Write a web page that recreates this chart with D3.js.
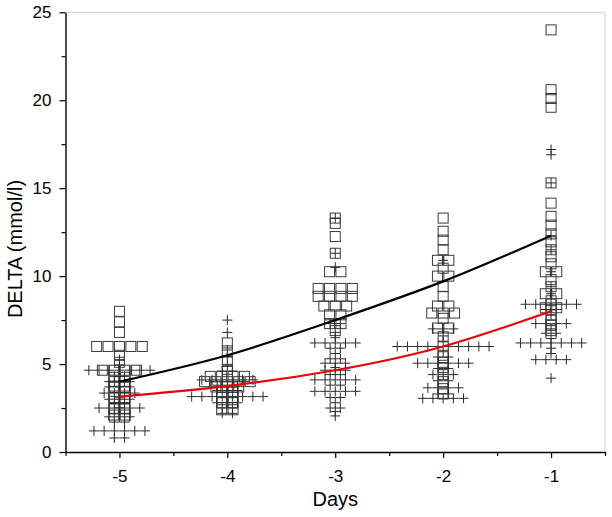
<!DOCTYPE html>
<html><head><meta charset="utf-8">
<script src="https://cdn.jsdelivr.net/npm/d3@7"></script>
<style>body{margin:0;background:#fff} text{font-family: Arial, "Liberation Sans", sans-serif}</style>
</head><body><svg id="chart" width="612" height="517"></svg>
<script>
// ---- data ----
const days = [-5, -4, -3, -2, -1];

const squaresDayM5 = [8.0, 7.4, 6.8, 6.0, 6.0, 6.0, 6.0, 6.0, 5.5, 5.1, 4.65, 4.65, 4.65, 4.65,
  4.25, 4.25, 4.0, 3.75, 3.75, 3.45, 3.45, 3.1, 3.1, 2.8, 2.45, 2.45, 2.1, 2.1];
const squaresDayM4 = [6.2, 5.75, 5.15, 4.7, 4.3, 4.3, 4.3, 4.3, 4.0, 4.0, 4.0, 4.0, 4.0,
  3.7, 3.7, 3.7, 3.4, 3.4, 3.1, 3.1, 2.8, 2.8, 2.4, 2.4];
const squaresDayM3 = [13.3, 13.0, 12.25, 11.3, 10.25, 10.25, 9.3, 9.3, 9.3, 9.3, 8.85, 8.85, 8.85, 8.85,
  8.3, 8.3, 8.3, 7.8, 7.8, 7.3, 7.3, 6.9];
const squaresDayM2 = [13.3, 12.55, 12.05, 11.5, 10.9, 10.9, 10.45, 10.0, 10.0, 9.4, 8.85, 8.3, 8.3,
  7.9, 7.9, 7.9, 7.6, 7.05, 7.05, 6.55, 5.5, 5.1, 4.8, 4.4, 4.0, 3.6, 3.3];
const squaresDayM1 = [24.0, 20.6, 20.1, 19.6, 15.3, 14.15, 13.4, 12.9, 12.4, 11.95, 11.5, 11.1, 10.7,
  10.25, 10.25, 9.8, 9.4, 9.0, 9.0, 8.6, 8.2, 8.2, 7.8, 7.5, 7.2, 6.9];

const plusesDayM5 = [5.25, 4.95, 4.65, 4.65, 4.65, 4.65, 4.65, 4.65, 4.65, 4.3, 4.3, 4.0, 4.0, 4.0,
  3.7, 3.7, 3.7, 3.35, 3.35, 3.35, 3.35, 3.0, 3.0, 3.0, 2.75, 2.75, 2.5, 2.5, 2.5, 2.5, 2.5,
  2.2, 2.2, 2.0, 2.0, 2.0, 1.7, 1.7, 1.2, 1.2, 1.2, 1.2, 1.2, 1.2, 0.8, 0.8];
const plusesDayM4 = [7.5, 6.8, 5.8, 5.4, 4.9, 4.6, 4.6, 4.1, 4.1, 4.1, 4.1, 4.1, 4.1, 3.8, 3.8, 3.8,
  3.5, 3.5, 3.5, 3.15, 3.15, 3.15, 3.15, 3.15, 3.15, 3.15, 3.15, 2.8, 2.8, 2.8, 2.5, 2.5, 2.2, 2.2];
const plusesDayM3 = [13.3, 11.3, 10.5, 7.3, 7.3, 6.8, 6.5, 6.2, 6.2, 6.2, 6.2, 6.2, 5.9, 5.9, 5.6,
  5.3, 5.3, 5.05, 5.05, 5.05, 4.8, 4.65, 4.65, 4.65, 4.4, 4.4, 4.1, 4.1, 4.1, 4.1, 4.1, 3.8, 3.8,
  3.45, 3.45, 3.45, 3.45, 3.45, 3.1, 3.1, 2.8, 2.5, 2.5, 2.3, 2.05];
const plusesDayM2 = [10.9, 7.0, 7.0, 7.0, 6.6, 6.3, 6.0, 6.0, 6.0, 6.0, 6.0, 6.0, 6.0, 6.0, 6.0, 6.0,
  5.7, 5.4, 5.4, 5.05, 5.05, 5.05, 5.05, 5.05, 5.05, 4.75, 4.75, 4.4, 4.4, 4.4, 4.05, 4.05,
  3.65, 3.65, 3.65, 3.65, 3.3, 3.3, 3.05, 3.05, 3.05, 3.05, 3.05];
const plusesDayM1 = [17.2, 16.9, 15.3, 12.3, 11.5, 10.25, 9.4, 9.0, 8.7, 8.4, 8.4, 8.4, 8.4, 8.4, 8.4,
  8.1, 8.1, 7.8, 7.3, 7.3, 7.3, 7.3, 7.0, 6.75, 6.75, 6.45, 6.2, 6.2, 6.2, 6.2, 6.2, 6.2, 6.2,
  5.9, 5.6, 5.25, 5.25, 5.25, 5.25, 4.2];

const fitDays = [-5, -4, -3, -2, -1];
const fitUpper = [4.0, 5.5, 7.5, 9.7, 12.3];
const fitLower = [3.15, 3.75, 4.65, 6.0, 8.0];

const xTicks = [-5, -4, -3, -2, -1];
const xMinorTicks = [-5.5, -4.5, -3.5, -2.5, -1.5, -0.5];
const yTicks = [0, 5, 10, 15, 20, 25];
const yMinorTicks = [2.5, 7.5, 12.5, 17.5, 22.5];

const squareSeries = [squaresDayM5, squaresDayM4, squaresDayM3, squaresDayM2, squaresDayM1];
const plusSeries = [plusesDayM5, plusesDayM4, plusesDayM3, plusesDayM2, plusesDayM1];

// ---- drawing ----
const L = 65.5, R = 605, T = 12.3, B = 452;
const svg = d3.select("#chart");
const x = d3.scaleLinear().domain([-5.5, -0.5]).range([L, R]);
const y = d3.scaleLinear().domain([0, 25]).range([B, T]);

svg.append("line").attr("x1", L).attr("x2", R).attr("y1", T).attr("y2", T).attr("stroke", "#d4d4d4").attr("stroke-width", 1);
svg.append("line").attr("x1", R).attr("x2", R).attr("y1", T).attr("y2", B).attr("stroke", "#d4d4d4").attr("stroke-width", 1);

function layout(vals) {
  const counts = d3.rollup(vals, v => v.length, d => d);
  const seen = new Map();
  return vals.map(v => {
    const n = counts.get(v); const i = seen.get(v) || 0; seen.set(v, i + 1);
    return { v, k: i - (n - 1) / 2 };
  });
}

const gPts = svg.append("g");
squareSeries.forEach((vals, di) => {
  gPts.selectAll(null).data(layout(vals)).enter().append("rect")
    .attr("x", d => x(days[di]) + d.k * 11.4 - 5)
    .attr("y", d => y(d.v) - 5)
    .attr("width", 10).attr("height", 10)
    .attr("fill", "none").attr("stroke", "#3a3a3a").attr("stroke-width", 1);
});
plusSeries.forEach((vals, di) => {
  gPts.selectAll(null).data(layout(vals)).enter().append("path")
    .attr("d", d => {
      const cx = x(days[di]) + d.k * 10.2, cy = y(d.v);
      return `M${cx - 5},${cy}H${cx + 5}M${cx},${cy - 5}V${cy + 5}`;
    })
    .attr("fill", "none").attr("stroke", "#2a2a2a").attr("stroke-width", 1);
});

const line = d3.line().x((d, i) => x(fitDays[i])).y(d => y(d)).curve(d3.curveNatural);
svg.append("path").attr("d", line(fitUpper)).attr("fill", "none").attr("stroke", "#000").attr("stroke-width", 2.2);
svg.append("path").attr("d", line(fitLower)).attr("fill", "none").attr("stroke", "#e8000b").attr("stroke-width", 2.2);

// axes
const fmt = d => String(d);
const ax = svg.append("g").attr("transform", `translate(0,${B})`);
ax.call(d3.axisBottom(x).tickValues(xTicks).tickSize(6).tickSizeOuter(0).tickPadding(12).tickFormat(fmt));
ax.append("g").call(d3.axisBottom(x).tickValues(xMinorTicks).tickSize(4).tickSizeOuter(0).tickFormat(() => ""))
  .select(".domain").remove();
const ay = svg.append("g").attr("transform", `translate(${L},0)`);
ay.call(d3.axisLeft(y).tickValues(yTicks).tickSize(6).tickSizeOuter(0).tickPadding(8).tickFormat(fmt));
ay.append("g").call(d3.axisLeft(y).tickValues(yMinorTicks).tickSize(4).tickSizeOuter(0).tickFormat(() => ""))
  .select(".domain").remove();
svg.selectAll(".domain").attr("stroke", "#000").attr("stroke-width", 1.4);
svg.selectAll(".tick line").attr("stroke", "#000").attr("stroke-width", 1.2);
svg.selectAll(".tick text").attr("font-size", 17).attr("fill", "#000")
  .attr("font-family", "Arial, 'Liberation Sans', sans-serif");

svg.append("text").attr("x", (L + R) / 2).attr("y", 506).attr("text-anchor", "middle")
  .attr("font-size", 20).text("Days");
svg.append("text").attr("transform", "translate(22,249) rotate(-90)").attr("text-anchor", "middle")
  .attr("font-size", 20).text("DELTA (mmol/l)");
</script></body></html>
